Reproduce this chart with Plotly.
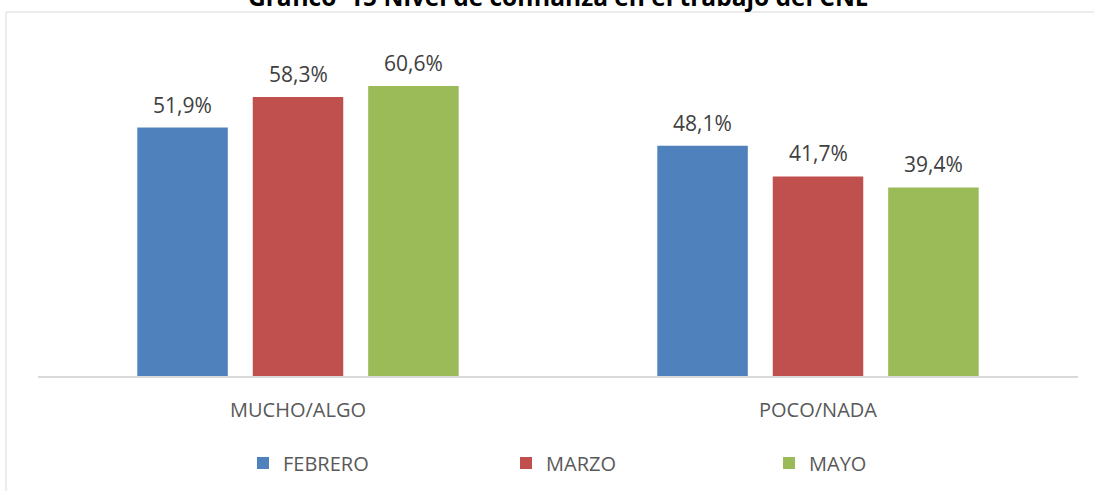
import plotly.graph_objects as go

categories = ["MUCHO/ALGO", "POCO/NADA"]
series_names = ["FEBRERO", "MARZO", "MAYO"]
febrero = [51.9, 48.1]
marzo = [58.3, 41.7]
mayo = [60.6, 39.4]
colors = ["#4F81BD", "#C0504D", "#9BBB59"]
title_text = "Gráfico  15 Nivel de confianza en el trabajo del CNE"

W, H = 1094, 491
ml, mr, mt, mb = 38, 16, 41, 115
plot_w = W - ml - mr
plot_h = H - mt - mb
FONT = "Open Sans"
BARGAP = 0.334
slot_px = plot_w / len(categories) * (1 - BARGAP) / len(series_names)

fig = go.Figure()
annotations = []
for i, (name, vals, col) in enumerate(zip(series_names, [febrero, marzo, mayo], colors)):
    fig.add_trace(go.Bar(
        x=categories, y=vals, name=name, marker_color=col,
        marker_line_width=0,
    ))
    for cat, v in zip(categories, vals):
        annotations.append(dict(
            x=cat, y=v, xref="x", yref="y",
            text=f"{v:.1f}%".replace(".", ","),
            xshift=(i - 1) * slot_px, yshift=23,
            yanchor="middle", xanchor="center", showarrow=False,
            font=dict(size=21, color="#404040", family=FONT),
        ))

def px_x(p):
    return (p - ml) / plot_w

def px_y(p):
    return (H - mb - p) / plot_h

annotations.append(dict(text=f"<b>{title_text}</b>", xref="paper", yref="paper",
                        x=0.5, xanchor="center", y=px_y(-3), yanchor="middle",
                        showarrow=False,
                        font=dict(size=24.5, color="#000000", family=FONT)))

fig.update_layout(
    width=W, height=H,
    margin=dict(l=ml, r=mr, t=mt, b=mb, autoexpand=False),
    barmode="group", bargap=BARGAP, bargroupgap=0.216,
    paper_bgcolor="white", plot_bgcolor="white",
    font=dict(family=FONT, color="#595959"),
    xaxis=dict(showline=True, linecolor="#D9D9D9", linewidth=1.5,
               ticks="", tickfont=dict(size=20, color="#595959"),
               ticklabelstandoff=15),
    yaxis=dict(range=[0, 70], visible=False),
    legend=dict(orientation="h", x=px_x(243), xanchor="left",
                y=px_y(463), yanchor="middle",
                entrywidth=218, entrywidthmode="pixels",
                font=dict(size=20, color="#595959"),
                itemclick=False),
    shapes=[dict(type="rect", xref="paper", yref="paper",
                 x0=px_x(6), x1=px_x(1120), y0=px_y(530), y1=px_y(12),
                 line=dict(color="#D9D9D9", width=1), fillcolor="rgba(0,0,0,0)",
                 layer="below")],
    annotations=annotations,
)

fig.write_html("out.html", config={"displayModeBar": False},
               post_script="document.body.style.margin='0';document.body.style.overflow='hidden';")
